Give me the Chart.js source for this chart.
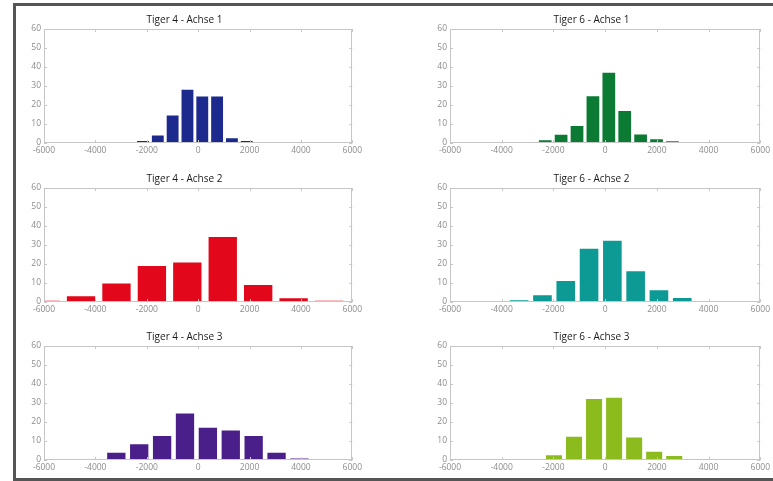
<!DOCTYPE html>
<html>
<head>
<meta charset="utf-8">
<script src="https://cdn.jsdelivr.net/npm/chart.js@4"></script>
<style>
  html, body { margin: 0; padding: 0; background: #fff; }
  body { width: 773px; height: 481px; position: relative; overflow: hidden; }
  #frame { position: absolute; left: 13px; top: 3px; width: 770px; height: 472px;
    border-top: 3px solid #555; border-left: 3px solid #555; border-bottom: 3px solid #555; }
  canvas { position: absolute; }
</style>
</head>
<body>
<div id="frame"></div>
<canvas id="c1" width="348" height="143" style="left:16px;top:14px"></canvas>
<canvas id="c2" width="350" height="143" style="left:422px;top:14px"></canvas>
<canvas id="c3" width="348" height="143" style="left:16px;top:173px"></canvas>
<canvas id="c4" width="350" height="143" style="left:422px;top:173px"></canvas>
<canvas id="c5" width="348" height="143" style="left:16px;top:331px"></canvas>
<canvas id="c6" width="350" height="143" style="left:422px;top:331px"></canvas>
<script>
// bin centres and bar heights
let t4a1Bins = [-2147, -1570, -993, -416, 161, 738, 1315, 1892, 2469, 3046];
let t4a1Vals = [1, 4, 14.5, 28, 24.5, 24.5, 2.5, 1, 0.5, 0.5];

let t6a1Bins = [-2933, -2318, -1703, -1088, -473, 142, 757, 1372, 1987, 2602];
let t6a1Vals = [0.5, 1.4, 4.4, 9, 24.6, 37, 16.8, 4.5, 2, 0.9];

let t4a2Bins = [-5937, -4558, -3179, -1800, -421, 958, 2337, 3716, 5095];
let t4a2Vals = [0.7, 3, 9.7, 19, 20.8, 34.2, 9, 2, 0.7];

let t6a2Bins = [-5127, -4226, -3325, -2424, -1523, -622, 279, 1180, 2081, 2982];
let t6a2Vals = [0.3, 0.3, 0.9, 3.5, 11, 28, 32.3, 16.2, 6.2, 2.1];

let t4a3Bins = [-3185, -2294, -1403, -512, 379, 1270, 2161, 3052, 3943, 4834];
let t4a3Vals = [3.8, 8.3, 12.6, 24.5, 17, 15.5, 12.6, 3.8, 0.8, 0.3];

let t6a3Bins = [-3528, -2753, -1978, -1203, -428, 347, 1122, 1897, 2672, 3447, 4222];
let t6a3Vals = [0.2, 0.5, 2.5, 12.3, 32.1, 32.8, 11.9, 4.4, 2.1, 0.5, 0.2];

let xRange = [-6000, 6000];
let yRange = [0, 60];

Chart.defaults.font.family = "'Open Sans', sans-serif";

// matlab style box with ticks pointing inwards
const boxTicks = {
	id: 'boxTicks',
	afterDraw(chart) {
		const ctx = chart.ctx;
		const a = chart.chartArea;
		const x = chart.scales.x, y = chart.scales.y;
		ctx.save();
		ctx.strokeStyle = '#c6c6c6';
		ctx.lineWidth = 1;
		ctx.strokeRect(Math.round(a.left) + 0.5, Math.round(a.top) + 0.5,
			Math.round(a.width) - 1, Math.round(a.height) - 1);
		ctx.beginPath();
		x.ticks.forEach(t => {
			let px = Math.round(x.getPixelForValue(t.value)) + 0.5;
			ctx.moveTo(px, a.top); ctx.lineTo(px, a.top + 3);
			ctx.moveTo(px, a.bottom); ctx.lineTo(px, a.bottom - 3);
		});
		y.ticks.forEach(t => {
			let py = Math.round(y.getPixelForValue(t.value)) + 0.5;
			ctx.moveTo(a.left, py); ctx.lineTo(a.left + 3, py);
			ctx.moveTo(a.right, py); ctx.lineTo(a.right - 3, py);
		});
		ctx.stroke();
		ctx.restore();
	}
};

function makeHist(id, title, bins, vals, color) {
	var ctx = document.getElementById(id).getContext('2d');
	return new Chart(ctx, {
		type: 'bar',
		data: {
			datasets: [{
				data: bins.map((b, i) => ({x: b, y: vals[i]})),
				backgroundColor: color,
				borderWidth: 0,
				categoryPercentage: 1,
				barPercentage: 0.8
			}]
		},
		options: {
			responsive: false,
			animation: false,
			devicePixelRatio: 1,
			layout: { padding: { left: 0, right: 11, top: 0, bottom: 0 } },
			plugins: {
				legend: { display: false },
				tooltip: { enabled: false },
				title: {
					display: true,
					text: title,
					color: '#1a1a1a',
					font: { size: 10, weight: 'normal' },
					padding: { top: 0, bottom: 3 }
				}
			},
			scales: {
				x: {
					type: 'linear',
					min: xRange[0],
					max: xRange[1],
					offset: false,
					grid: { display: false, drawTicks: false, offset: false },
					border: { display: false },
					ticks: { stepSize: 2000, color: '#8c8c8c', font: { size: 8.5 }, padding: 2, maxRotation: 0,
						callback: v => String(v) },
					afterFit: s => { s.height = 14; }
				},
				y: {
					min: yRange[0],
					max: yRange[1],
					grid: { display: false, drawTicks: false },
					border: { display: false },
					ticks: { stepSize: 10, color: '#8c8c8c', font: { size: 8.5 }, padding: 3 },
					afterFit: s => { s.width = 28; }
				}
			}
		},
		plugins: [boxTicks]
	});
}

var chart1 = makeHist('c1', 'Tiger 4 - Achse 1', t4a1Bins, t4a1Vals, '#1b2a8c');
var chart2 = makeHist('c2', 'Tiger 6 - Achse 1', t6a1Bins, t6a1Vals, '#0b7b34');
var chart3 = makeHist('c3', 'Tiger 4 - Achse 2', t4a2Bins, t4a2Vals, '#e2071a');
var chart4 = makeHist('c4', 'Tiger 6 - Achse 2', t6a2Bins, t6a2Vals, '#0d9a95');
var chart5 = makeHist('c5', 'Tiger 4 - Achse 3', t4a3Bins, t4a3Vals, '#4a1f8a');
var chart6 = makeHist('c6', 'Tiger 6 - Achse 3', t6a3Bins, t6a3Vals, '#8cbb1e');
</script>
</body>
</html>
